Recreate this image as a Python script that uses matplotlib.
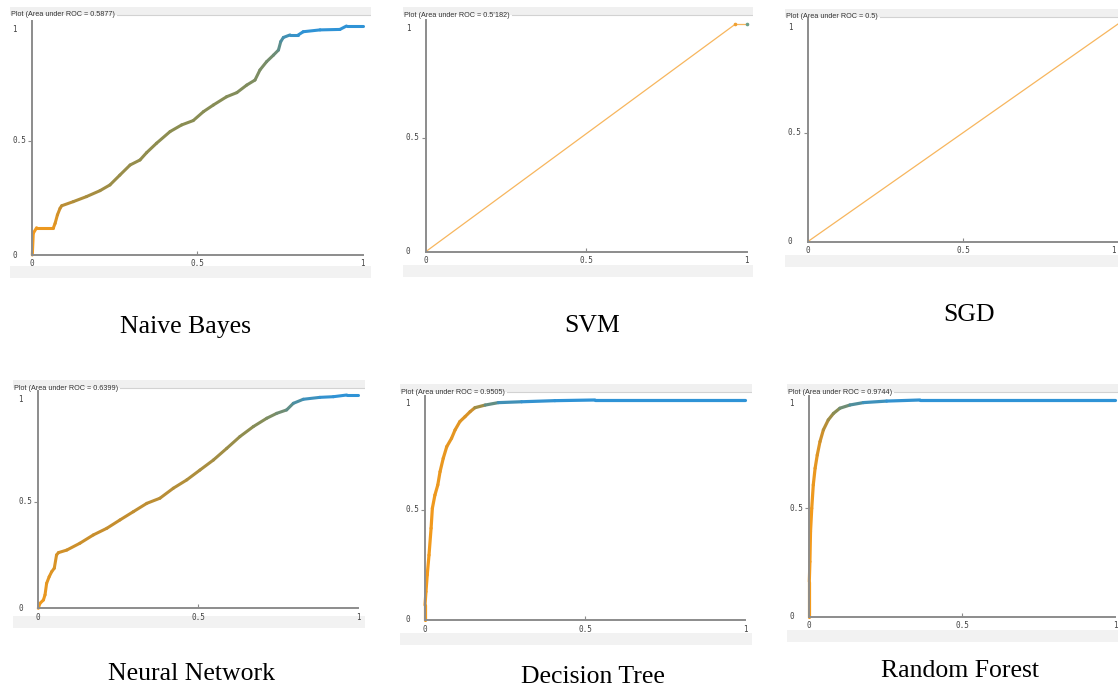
from __future__ import annotations

import matplotlib

matplotlib.use("Agg")
import matplotlib.pyplot as plt
import numpy as np
from matplotlib.collections import LineCollection
from matplotlib.colors import LinearSegmentedColormap
from matplotlib.patches import Rectangle


FIG_W, FIG_H = 1118, 691

# ROC curves (fpr, tpr, threshold colour 1=orange .. 0=blue)
NB_FPR = [0.0, 0.003, 0.013, 0.064, 0.069, 0.076, 0.084, 0.089, 0.124, 0.164, 0.205, 0.235,
          0.265, 0.296, 0.326, 0.346, 0.376, 0.417, 0.452, 0.487, 0.518, 0.548, 0.588, 0.619,
          0.649, 0.674, 0.689, 0.709, 0.730, 0.745, 0.752, 0.760, 0.780, 0.805, 0.820, 0.871,
          0.931, 0.951, 1.0]
NB_TPR = [0.0, 0.095, 0.119, 0.119, 0.138, 0.175, 0.204, 0.215, 0.233, 0.255, 0.281, 0.306,
          0.349, 0.393, 0.415, 0.447, 0.488, 0.539, 0.568, 0.587, 0.626, 0.655, 0.691, 0.709,
          0.742, 0.764, 0.808, 0.844, 0.873, 0.895, 0.932, 0.950, 0.961, 0.961, 0.975, 0.983,
          0.985, 1.0, 1.0]
NB_THR = [1.0, 1.0, 0.98, 0.94, 0.9, 0.84, 0.78, 0.72, 0.67, 0.63, 0.6, 0.58,
          0.56, 0.55, 0.54, 0.53, 0.52, 0.51, 0.5, 0.5, 0.49, 0.49, 0.48, 0.47,
          0.46, 0.45, 0.44, 0.42, 0.4, 0.35, 0.27, 0.2, 0.1, 0.04, 0.0, 0.0,
          0.0, 0.0, 0.0]

SVM_FPR = [0.0, 0.964, 1.0]
SVM_TPR = [0.0, 1.0, 1.0]

SGD_FPR = [0.0, 1.0]
SGD_TPR = [0.0, 1.0]

NN_FPR = [0.0, 0.005, 0.016, 0.021, 0.026, 0.034, 0.042, 0.050, 0.057, 0.063, 0.089, 0.130,
          0.172, 0.214, 0.255, 0.297, 0.339, 0.380, 0.422, 0.464, 0.505, 0.547, 0.589, 0.630,
          0.672, 0.714, 0.745, 0.776, 0.797, 0.828, 0.880, 0.922, 0.964, 1.0]
NN_TPR = [0.0, 0.023, 0.039, 0.063, 0.117, 0.148, 0.172, 0.188, 0.250, 0.261, 0.273, 0.305,
          0.344, 0.375, 0.414, 0.453, 0.492, 0.516, 0.563, 0.602, 0.648, 0.695, 0.750, 0.805,
          0.852, 0.891, 0.914, 0.930, 0.961, 0.980, 0.989, 0.992, 1.0, 1.0]
NN_THR = [1.0, 0.98, 0.96, 0.94, 0.92, 0.9, 0.88, 0.86, 0.84, 0.82, 0.8, 0.78,
          0.76, 0.75, 0.74, 0.73, 0.72, 0.7, 0.68, 0.66, 0.64, 0.61, 0.58, 0.54,
          0.5, 0.46, 0.42, 0.36, 0.28, 0.16, 0.06, 0.0, 0.0, 0.0]

DT_FPR = [0.0, 0.0, 0.003, 0.007, 0.0125, 0.019, 0.023, 0.031, 0.040, 0.047, 0.057, 0.068,
          0.083, 0.094, 0.109, 0.125, 0.141, 0.156, 0.188, 0.229, 0.302, 0.406, 0.531, 1.0]
DT_TPR = [0.0, 0.068, 0.129, 0.205, 0.295, 0.417, 0.508, 0.568, 0.614, 0.674, 0.735, 0.788,
          0.826, 0.864, 0.902, 0.924, 0.947, 0.965, 0.977, 0.988, 0.992, 0.997, 1.0, 1.0]
DT_THR = [1.0, 1.0, 1.0, 1.0, 1.0, 0.99, 0.98, 0.97, 0.96, 0.95, 0.94, 0.93,
          0.92, 0.91, 0.9, 0.88, 0.84, 0.72, 0.45, 0.22, 0.06, 0.0, 0.0, 0.0]

RF_FPR = [0.0, 0.0, 0.002, 0.004, 0.008, 0.013, 0.019, 0.026, 0.035, 0.046, 0.062, 0.079,
          0.100, 0.133, 0.177, 0.253, 0.362, 1.0]
RF_TPR = [0.0, 0.162, 0.254, 0.392, 0.5, 0.608, 0.685, 0.746, 0.808, 0.862, 0.908, 0.938,
          0.962, 0.977, 0.988, 0.995, 1.0, 1.0]
RF_THR = [1.0, 1.0, 1.0, 1.0, 0.98, 0.96, 0.94, 0.9, 0.84, 0.74, 0.63, 0.54,
          0.45, 0.32, 0.18, 0.06, 0.0, 0.0]

AUC_LABELS = ["0.5877", "0.5\u2019182", "0.5", "0.6399", "0.9505", "0.9744"]
MODEL_NAMES = ["Naive Bayes", "SVM", "SGD", "Neural Network", "Decision Tree", "Random Forest"]

# panel box (left, top, right, bottom) and plot box (x0, y1, x1, y0) in screenshot pixels
PANEL_BOXES = [
    (10, 7, 371, 278), (403, 7, 753, 277), (785, 9, 1118, 267),
    (13, 380, 365, 628), (400, 384, 752, 645), (787, 384, 1118, 642),
]
PLOT_BOXES = [
    (32.3, 26.0, 362.7, 255.0), (425.7, 24.3, 746.7, 251.7), (807.7, 23.3, 1119.0, 241.7),
    (38.3, 395.0, 358.3, 608.3), (425.0, 400.0, 745.0, 620.0), (809.3, 400.0, 1115.0, 616.7),
]
CAPTION_POS = [(186, 327), (592, 326), (969, 315), (191, 674), (593, 677), (960, 671)]

ROC_CMAP = LinearSegmentedColormap.from_list(
    "weka_roc",
    [(0.0, "#2f93d6"), (0.25, "#4f8e9c"), (0.5, "#8a8d52"), (0.75, "#c68e2e"), (1.0, "#f39a1c")],
)
THIN_ORANGE = "#f7b65e"
AXIS_GREY = "#8c8c8c"


def fig_rect(left: float, top: float, right: float, bottom: float) -> list[float]:
    return [left / FIG_W, 1 - bottom / FIG_H, (right - left) / FIG_W, (bottom - top) / FIG_H]


def draw_panel_frame(fig, box, title: str) -> None:
    left, top, right, bottom = box
    ax = fig.add_axes(fig_rect(left, top, right, bottom))
    ax.set_xlim(left, right)
    ax.set_ylim(bottom, top)
    ax.axis("off")
    ax.add_patch(Rectangle((left, top), right - left, 8, color="#f0f0f0", lw=0))
    ax.add_patch(Rectangle((left, bottom - 12), right - left, 12, color="#f2f2f2", lw=0))
    txt = ax.text(left + 1, top + 8, title, fontsize=5.2, family="Liberation Sans",
                  color="#333333", va="center", ha="left")
    fig.canvas.draw()
    bb = txt.get_window_extent()
    x_end = bb.x1 * FIG_W / fig.bbox.width
    ax.plot([x_end + 2, right], [top + 8, top + 8], color="#d2d2d2", lw=0.8)


def draw_roc_axes(fig, box, clip_right: bool = False):
    x0, y1, x1, y0 = box
    ax = fig.add_axes(fig_rect(x0, y1, x1, y0))
    ax.set_xlim(0, 1)
    ax.set_ylim(0, 1)
    ax.patch.set_alpha(0)
    for side in ("top", "right"):
        ax.spines[side].set_visible(False)
    for side in ("left", "bottom"):
        ax.spines[side].set_color(AXIS_GREY)
        ax.spines[side].set_linewidth(1.4)
    ax.spines["left"].set_bounds(0, 1.02)
    ax.spines["left"].set_clip_on(False)
    ax.set_xticks([0.5])
    ax.set_yticks([0.5])
    ax.tick_params(axis="x", direction="in", length=3, color=AXIS_GREY, labelbottom=False)
    ax.tick_params(axis="y", direction="out", length=3, color=AXIS_GREY, labelleft=False)

    h = y0 - y1
    w = x1 - x0
    lab = dict(fontsize=5.5, family="DejaVu Sans Mono", color="#444444")
    ytr = ax.get_yaxis_transform()
    for v, s in ((0.0, "0"), (0.5, "0.5"), (1.0, "1")):
        ax.text(-20.0 / w, v - (4.0 if v == 1.0 else 0.0) / h, s, transform=ytr,
                ha="left", va="center", **lab)
    xtr = ax.get_xaxis_transform()
    for v, s in ((0.0, "0"), (0.5, "0.5"), (1.0, "1")):
        # the SGD screenshot is cropped at the right edge of the figure
        if clip_right and v == 1.0:
            ax.text(v - 3.0 / w, -9.0 / h, s, transform=xtr, ha="right", va="center", **lab)
        else:
            ax.text(v, -9.0 / h, s, transform=xtr, ha="center", va="center", **lab)
    return ax


def add_gradient_curve(ax, fpr, tpr, thr, lw: float = 2.3) -> None:
    pts = np.column_stack([fpr, tpr])
    segs = np.stack([pts[:-1], pts[1:]], axis=1)
    thr = np.asarray(thr, dtype=float)
    seg_val = (thr[:-1] + thr[1:]) / 2
    lc = LineCollection(segs, colors=ROC_CMAP(seg_val), linewidths=lw,
                        capstyle="round", joinstyle="round", clip_on=False)
    ax.add_collection(lc)


def main() -> None:
    fig = plt.figure(figsize=(FIG_W / 100, FIG_H / 100), dpi=100)
    fig.patch.set_facecolor("white")

    for i, box in enumerate(PANEL_BOXES):
        draw_panel_frame(fig, box, f"Plot (Area under ROC = {AUC_LABELS[i]})")

    axes = [draw_roc_axes(fig, box, clip_right=(i == 2)) for i, box in enumerate(PLOT_BOXES)]

    add_gradient_curve(axes[0], NB_FPR, NB_TPR, NB_THR, lw=2.2)

    axes[1].plot(SVM_FPR[:2], SVM_TPR[:2], color=THIN_ORANGE, lw=0.9, clip_on=False)
    axes[1].plot(SVM_FPR[1:], SVM_TPR[1:], color=THIN_ORANGE, lw=0.9, clip_on=False)
    axes[1].plot(SVM_FPR[1], SVM_TPR[1], "o", ms=1.6, color="#f0a030", clip_on=False)
    axes[1].plot(SVM_FPR[2], SVM_TPR[2], "o", ms=1.6, color="#6fa08a", clip_on=False)

    axes[2].plot(SGD_FPR, SGD_TPR, color=THIN_ORANGE, lw=0.9, clip_on=False)

    add_gradient_curve(axes[3], NN_FPR, NN_TPR, NN_THR, lw=2.2)
    add_gradient_curve(axes[4], DT_FPR, DT_TPR, DT_THR, lw=2.3)
    add_gradient_curve(axes[5], RF_FPR, RF_TPR, RF_THR, lw=2.3)

    for name, (cx, cy) in zip(MODEL_NAMES, CAPTION_POS):
        fig.text(cx / FIG_W, 1 - cy / FIG_H, name, fontsize=18.5, family="Liberation Serif",
                 ha="center", va="center", color="black")

    fig.savefig("out.png", dpi=100)
    plt.close(fig)


if __name__ == "__main__":
    main()
